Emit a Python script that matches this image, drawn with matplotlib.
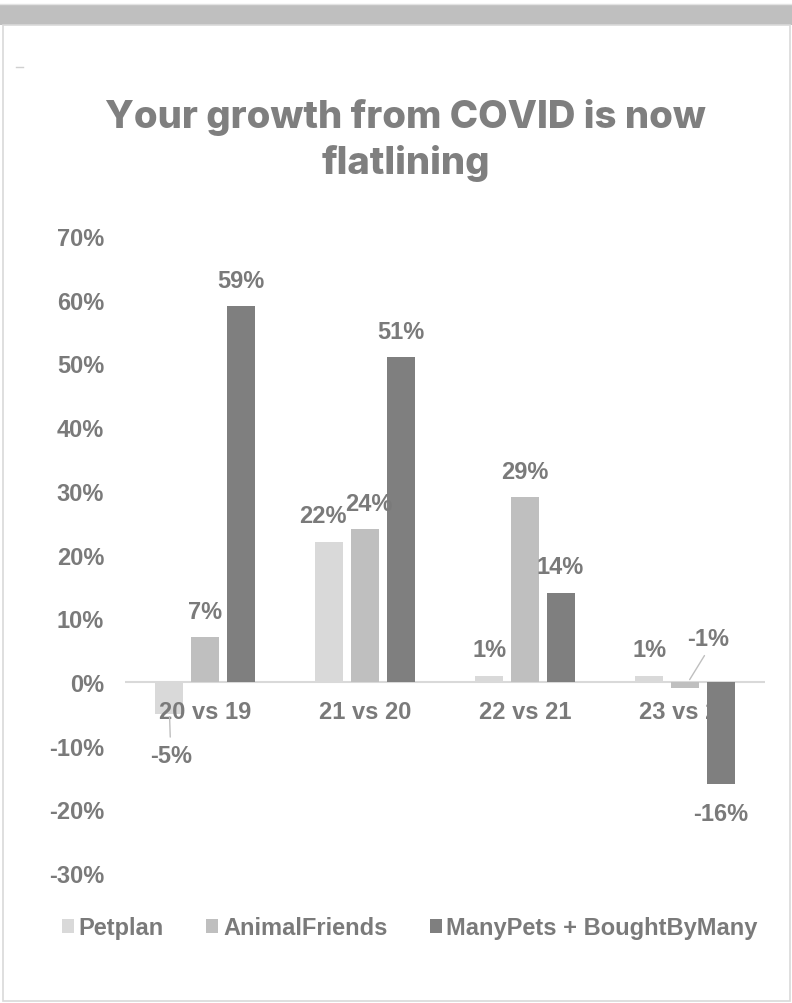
import matplotlib
matplotlib.use("Agg")
import matplotlib.pyplot as plt
from matplotlib.patches import Rectangle
from matplotlib.lines import Line2D
import numpy as np

# ---- data ----
periods = ["20 vs 19", "21 vs 20", "22 vs 21", "23 vs 22"]
petplan = [-5, 22, 1, 1]
animal_friends = [7, 24, 29, -1]
manypets = [59, 51, 14, -16]
series_names = ["Petplan", "AnimalFriends", "ManyPets + BoughtByMany"]
y_ticks = [-30, -20, -10, 0, 10, 20, 30, 40, 50, 60, 70]

# ---- style ----
W, H = 792, 1004
TEXT = "#7a7a7a"
COLORS = ["#d9d9d9", "#bfbfbf", "#7f7f7f"]
LABEL_FONT = dict(family="Liberation Sans", weight="bold", size=17)
TITLE_FONT = dict(family="Inter", weight=800, size=27.5)

fig = plt.figure(figsize=(W / 100, H / 100), dpi=100)
fig.patch.set_facecolor("white")


def fx(px):
    return px / W


def fy(py):
    return 1 - py / H


# page decoration: grey header band and a framed white panel
fig.patches.append(Rectangle((0, fy(26)), 1, 21 / H, transform=fig.transFigure,
                             facecolor="#bfbfbf", edgecolor="none"))
fig.lines.append(Line2D([0, 1], [fy(5), fy(5)], transform=fig.transFigure,
                        color="#e3e3e3", lw=1))
fig.patches.append(Rectangle((fx(2.5), fy(1001.5)), fx(787), (1001.5 - 26) / H,
                             transform=fig.transFigure, fill=False,
                             edgecolor="#d9d9d9", lw=1.2))
fig.lines.append(Line2D([fx(16), fx(23)], [fy(68), fy(68)], transform=fig.transFigure,
                        color="#d0d0d0", lw=1))

# title
fig.text(fx(405.5), fy(117), "Your growth from COVID is now", ha="center", va="center",
         color="#7f7f7f", **TITLE_FONT)
fig.text(fx(405.5), fy(163), "flatlining", ha="center", va="center",
         color="#7f7f7f", **TITLE_FONT)

# axes
ax = fig.add_axes([fx(125), fy(874.1), fx(640), (874.1 - 237) / H])
ax.set_xlim(-0.5, 3.5)
ax.set_ylim(-30, 70)
for s in ax.spines.values():
    s.set_visible(False)
ax.set_xticks([])
ax.set_yticks(y_ticks)
ax.set_yticklabels([f"{v}%" for v in y_ticks])
ax.tick_params(axis="y", length=0, pad=15, labelcolor=TEXT)
for lab in ax.get_yticklabels():
    lab.set_fontfamily("Liberation Sans")
    lab.set_fontweight("bold")
    lab.set_fontsize(17)
ax.axhline(0, color="#d9d9d9", lw=1.5, zorder=0.8)

x = np.arange(len(periods))
step = 0.222
width = 0.175
all_series = [petplan, animal_friends, manypets]
zorders = [1, 1, 3]
containers = []
for i, (vals, col, name) in enumerate(zip(all_series, COLORS, series_names)):
    bc = ax.bar(x + (i - 1) * step, vals, width, color=col, label=name, zorder=zorders[i])
    containers.append(bc)

# category labels sit beneath the dark series
for xi, lab in zip(x, periods):
    ax.annotate(lab, xy=(xi, 0), xytext=(0, -21), textcoords="offset points",
                ha="center", va="center", color=TEXT, zorder=2, **LABEL_FONT)

# value labels
nudges = {(0, 1): -4.5, (1, 1): 3}
for i, vals in enumerate(all_series):
    for j, v in enumerate(vals):
        xb = x[j] + (i - 1) * step
        if (i, j) == (0, 0):
            # label pulled down below the category text with a leader line
            ax.annotate(f"{v}%", xy=(xb, v), xytext=(1, -30), textcoords="offset points",
                        ha="center", va="center", color=TEXT, zorder=4,
                        arrowprops=dict(arrowstyle="-", color="#bfbfbf", lw=1,
                                        shrinkA=3, shrinkB=2),
                        **LABEL_FONT)
            continue
        if (i, j) == (1, 3):
            ax.annotate(f"{v}%", xy=(xb + 0.02, 0), xytext=(14, 31), textcoords="offset points",
                        ha="center", va="center", color=TEXT, zorder=4,
                        arrowprops=dict(arrowstyle="-", color="#bfbfbf", lw=1,
                                        shrinkA=2, shrinkB=2, relpos=(0.5, 0)),
                        **LABEL_FONT)
            continue
        off = 18.7 if v >= 0 else -21.6
        ax.annotate(f"{v}%", xy=(xb, v), xytext=(nudges.get((i, j), 0), off),
                    textcoords="offset points", ha="center", va="center",
                    color=TEXT, zorder=4, **LABEL_FONT)

# legend
leg = fig.legend(handles=containers, labels=series_names, loc="center",
                 bbox_to_anchor=(fx(410), fy(929)), ncol=3, frameon=False,
                 handlelength=0.5, handleheight=0.5, handletextpad=0.2,
                 columnspacing=1.8, borderaxespad=0, prop=LABEL_FONT, labelcolor=TEXT)

fig.savefig("out.png", dpi=100, facecolor="white")
